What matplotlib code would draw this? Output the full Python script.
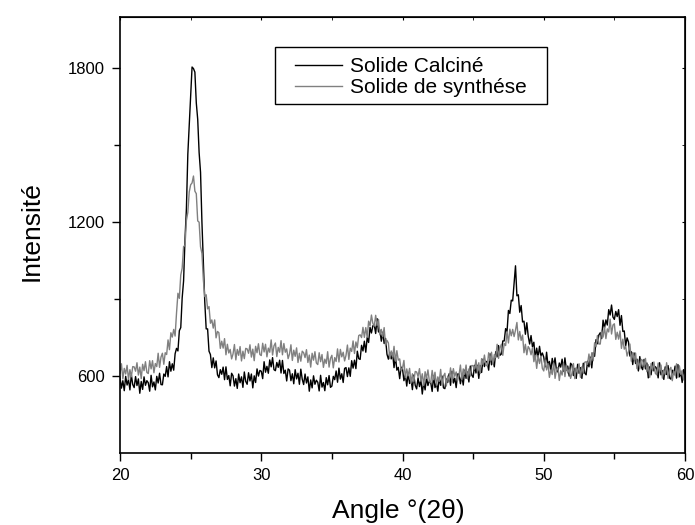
import numpy as np
from matplotlib import pyplot as plt
from matplotlib.patches import Rectangle
from matplotlib.ticker import MultipleLocator, FixedLocator

plt.rcParams['font.family'] = ['Liberation Sans', 'DejaVu Sans']

# XRD scans, 20-60 deg 2theta, one reading every 0.1 deg
angle_start = 20.0
angle_step = 0.1

calcine = [
    593, 553, 582, 543, 599, 565, 587, 546, 605, 567,
    555, 598, 563, 589, 533, 579, 548, 597, 564, 582,
    574, 541, 603, 558, 577, 546, 599, 573, 611, 567,
    566, 608, 599, 637, 597, 656, 619, 648, 623, 687,
    708, 698, 777, 789, 905, 971, 1134, 1253, 1465, 1576,
    1685, 1805, 1799, 1785, 1665, 1601, 1471, 1395, 1198, 1046,
    889, 784, 784, 697, 684, 633, 671, 632, 659, 605,
    594, 625, 607, 635, 586, 636, 587, 602, 562, 611,
    601, 561, 590, 552, 608, 574, 597, 556, 616, 579,
    568, 613, 581, 608, 554, 601, 575, 628, 600, 622,
    619, 590, 656, 615, 638, 611, 663, 636, 672, 625,
    621, 653, 634, 662, 612, 661, 610, 623, 581, 628,
    623, 582, 609, 570, 625, 589, 611, 568, 627, 588,
    567, 608, 573, 597, 541, 585, 554, 601, 568, 584,
    576, 542, 603, 557, 575, 543, 594, 566, 602, 556,
    561, 599, 586, 620, 576, 631, 588, 609, 575, 630,
    633, 598, 632, 599, 660, 631, 662, 629, 697, 668,
    665, 720, 698, 736, 693, 751, 731, 790, 768, 796,
    799, 766, 824, 772, 779, 736, 771, 727, 747, 685,
    666, 692, 667, 689, 633, 676, 623, 634, 590, 635,
    628, 582, 605, 561, 611, 571, 591, 547, 604, 564,
    550, 593, 559, 585, 530, 576, 546, 595, 563, 581,
    574, 540, 601, 555, 573, 541, 592, 564, 600, 554,
    551, 589, 575, 609, 564, 619, 573, 592, 555, 608,
    608, 570, 601, 565, 623, 591, 616, 577, 639, 604,
    595, 642, 612, 642, 591, 641, 614, 666, 637, 658,
    654, 623, 687, 644, 665, 636, 695, 675, 719, 681,
    686, 737, 737, 785, 773, 856, 844, 896, 893, 959,
    1030, 913, 917, 849, 875, 811, 814, 763, 808, 756,
    725, 758, 714, 732, 670, 709, 673, 716, 678, 690,
    674, 636, 693, 643, 657, 621, 669, 638, 671, 622,
    616, 651, 635, 666, 619, 671, 623, 639, 600, 650,
    643, 602, 630, 591, 646, 611, 633, 591, 650, 612,
    605, 658, 636, 674, 632, 691, 677, 742, 726, 760,
    769, 746, 818, 787, 819, 799, 859, 838, 877, 830,
    821, 852, 832, 859, 798, 836, 774, 776, 718, 749,
    733, 678, 695, 645, 690, 649, 666, 620, 676, 636,
    625, 665, 628, 651, 593, 636, 605, 653, 620, 637,
    629, 593, 652, 605, 621, 587, 636, 606, 641, 593,
    588, 623, 608, 639, 592, 645, 597, 613, 575, 625,
    600,
]

synthese = [
    611, 648, 589, 630, 608, 642, 587, 625, 597, 637,
    636, 619, 652, 604, 635, 590, 646, 621, 656, 614,
    610, 660, 628, 660, 613, 649, 637, 689, 634, 674,
    689, 646, 691, 684, 741, 703, 769, 752, 782, 756,
    846, 923, 903, 994, 1021, 1105, 1109, 1207, 1238, 1318,
    1346, 1353, 1380, 1321, 1311, 1205, 1200, 1104, 1078, 975,
    910, 917, 862, 871, 806, 819, 787, 819, 749, 774,
    769, 708, 736, 709, 746, 683, 724, 690, 704, 667,
    686, 723, 663, 704, 681, 715, 659, 697, 668, 708,
    706, 689, 722, 674, 705, 660, 716, 691, 726, 684,
    680, 728, 694, 724, 675, 709, 693, 741, 682, 718,
    729, 676, 712, 693, 738, 683, 727, 693, 706, 668,
    686, 722, 661, 701, 677, 710, 653, 689, 658, 697,
    691, 672, 703, 653, 682, 635, 689, 662, 695, 651,
    645, 691, 656, 684, 634, 666, 649, 695, 635, 669,
    681, 632, 672, 657, 706, 655, 704, 675, 693, 659,
    681, 721, 665, 709, 696, 737, 688, 733, 711, 758,
    761, 750, 790, 751, 789, 751, 814, 796, 838, 805,
    795, 837, 797, 821, 761, 782, 753, 789, 719, 739,
    729, 668, 698, 674, 716, 658, 699, 662, 667, 621,
    631, 661, 593, 628, 601, 630, 572, 609, 579, 618,
    616, 598, 629, 580, 609, 563, 617, 591, 624, 581,
    575, 622, 586, 615, 564, 597, 579, 626, 565, 600,
    611, 561, 600, 584, 632, 581, 629, 599, 616, 582,
    604, 643, 585, 628, 607, 643, 589, 628, 600, 641,
    641, 627, 663, 618, 652, 610, 668, 645, 682, 642,
    640, 691, 660, 693, 647, 684, 672, 724, 669, 709,
    724, 681, 727, 719, 774, 729, 783, 757, 782, 754,
    779, 809, 741, 774, 739, 760, 691, 724, 683, 715,
    706, 683, 710, 656, 681, 630, 680, 649, 678, 630,
    620, 663, 624, 649, 595, 624, 606, 652, 591, 625,
    634, 583, 621, 604, 651, 598, 644, 612, 627, 591,
    611, 649, 590, 633, 612, 648, 595, 636, 610, 654,
    656, 646, 686, 646, 691, 660, 730, 714, 758, 725,
    725, 779, 752, 791, 746, 784, 772, 822, 764, 799,
    804, 743, 771, 744, 776, 708, 744, 705, 716, 678,
    696, 725, 658, 692, 663, 690, 629, 662, 628, 665,
    661, 640, 669, 617, 644, 595, 649, 622, 655, 611,
    605, 651, 615, 643, 592, 624, 606, 652, 591, 625,
    634, 582, 620, 602, 648, 595, 640, 607, 622, 585,
    608,
]

labels = ['Solide Calciné', 'Solide de synthése']
colors = ['#000000', '#808080']

angle = angle_start + angle_step * np.arange(len(calcine))

fig = plt.figure(figsize=(6.95, 5.25), dpi=100)
ax = fig.add_axes([0.1727, 0.1371, 0.8129, 0.8305])

ax.plot(angle, calcine, color=colors[0], lw=1.0, label=labels[0])
ax.plot(angle, synthese, color=colors[1], lw=1.0, label=labels[1])

ax.set_xlim(20, 60)
ax.set_ylim(300, 2000)

# ticks: outward on bottom/left, little inward marks on top/right
ax.xaxis.set_major_locator(MultipleLocator(10))
ax.xaxis.set_minor_locator(MultipleLocator(5))
ax.yaxis.set_major_locator(FixedLocator([600, 1200, 1800]))
ax.yaxis.set_minor_locator(FixedLocator([900, 1500]))
ax.tick_params(which='major', direction='out', length=6, width=1, labelsize=12, pad=5)
ax.tick_params(which='minor', direction='out', length=4, width=1)
for s in ax.spines.values():
    s.set_linewidth(1.2)

top = ax.secondary_xaxis('top')
top.xaxis.set_major_locator(MultipleLocator(10))
top.xaxis.set_minor_locator(MultipleLocator(5))
top.tick_params(which='both', direction='in', length=2, labeltop=False)
right = ax.secondary_yaxis('right')
right.yaxis.set_major_locator(FixedLocator([600, 1200, 1800]))
right.yaxis.set_minor_locator(FixedLocator([900, 1500]))
right.tick_params(which='both', direction='in', length=2, labelright=False)

ax.set_xlabel('Angle °(2θ)', fontsize=19)
ax.xaxis.set_label_coords(0.492, -0.105)
ax.set_ylabel('Intensité', fontsize=19)
ax.yaxis.set_label_coords(-0.135, 0.51)

# legend, with its box drawn separately (wide side padding)
ax.add_patch(Rectangle((0.2743, 0.8005), 0.4814, 0.1307, transform=ax.transAxes,
                       fill=False, edgecolor='black', lw=1, zorder=5))
ax.legend(loc='upper left', bbox_to_anchor=(0.3097, 0.908), frameon=False,
          fontsize=15, borderpad=0, borderaxespad=0, handlelength=2.25,
          handletextpad=0.4, labelspacing=0.1)

plt.savefig('out.png', dpi=100)
